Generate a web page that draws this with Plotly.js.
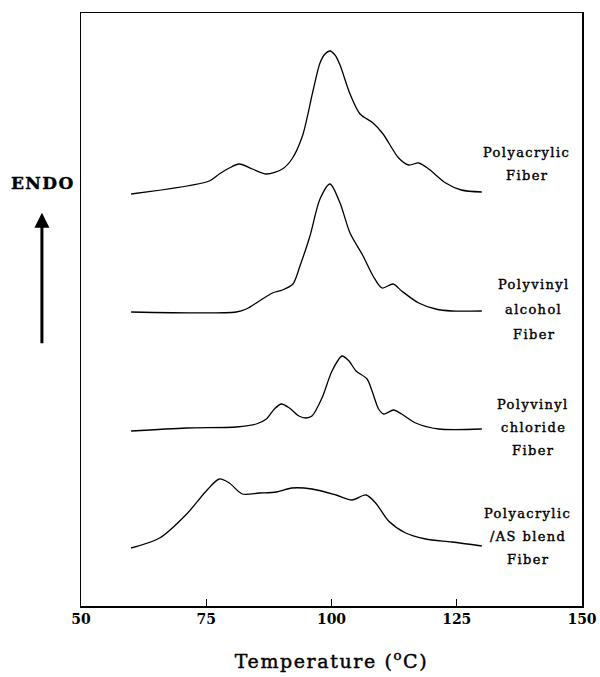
<!DOCTYPE html>
<html>
<head>
<meta charset="utf-8">
<script src="https://cdn.plot.ly/plotly-3.0.1.min.js"></script>
<style>
  html, body { margin: 0; padding: 0; background: #fff; }
  #chart { width: 600px; height: 677px; }
  .annotation-text { letter-spacing: 1.4px; stroke: #000; stroke-width: 0.4px; }
  .xtitle { letter-spacing: 1.6px; stroke: #000; stroke-width: 0.45px; }
</style>
</head>
<body>
<div id="chart"></div>
<script>
// DSC thermograms (endotherm up), each trace offset vertically, arbitrary units
const tempPolyacrylic = [60, 75.6, 77.6, 79.6, 81.6, 84.2, 87.0, 90.2, 92.1, 94.2, 96.3, 97.7, 98.7, 99.7, 100.7, 101.7, 103.7, 105.7, 108.3, 110.3, 113.4, 115.4, 117.4, 119.4, 122.8, 125.9, 130];
const heatPolyacrylic = [41.2, 42.5, 43.2, 43.8, 44.2, 43.7, 43.2, 43.7, 44.7, 47.0, 51.5, 54.3, 55.2, 55.5, 55.1, 54.1, 51.2, 49.2, 48.3, 47.2, 44.8, 44.1, 44.3, 43.7, 42.3, 41.6, 41.4];

const tempPVA = [60, 81.0, 83.0, 85.6, 88.2, 90.2, 92.3, 93.7, 95.7, 97.7, 99.7, 101.7, 103.7, 106.3, 108.3, 110.1, 112.3, 114.0, 117.4, 120.8, 124.0, 130];
const heatPVA = [29.4, 29.4, 29.7, 30.5, 31.3, 31.6, 32.2, 34.0, 37.0, 40.7, 42.2, 40.3, 37.3, 35.0, 33.0, 31.8, 32.2, 31.5, 30.3, 29.7, 29.5, 29.5];

const tempPVC = [60, 71.1, 81.0, 85.0, 87.0, 88.6, 90.0, 91.6, 93.5, 94.9, 96.1, 98.1, 100.1, 102.1, 103.5, 104.9, 107.1, 108.1, 109.4, 110.4, 112.4, 114.0, 116.8, 121.4, 130];
const heatPVC = [17.5, 17.8, 17.9, 18.2, 18.7, 19.7, 20.2, 19.8, 19.0, 18.8, 19.0, 20.8, 23.5, 25.0, 24.5, 23.5, 22.7, 21.5, 19.7, 19.2, 19.6, 19.2, 18.3, 17.7, 17.7];

const tempBlend = [60, 65.7, 71.1, 75.0, 77.6, 79.6, 82.2, 85.6, 89.0, 92.1, 96.1, 100.9, 104.1, 106.9, 108.8, 111.4, 114.8, 118.8, 124.0, 130];
const heatBlend = [5.8, 6.8, 9.2, 11.5, 12.7, 12.3, 11.2, 11.3, 11.4, 11.8, 11.7, 11.1, 10.6, 11.1, 10.3, 8.5, 7.3, 6.7, 6.4, 6.0];

const xTickVals = [50, 75, 100, 125, 150];
const xTickText = ['50', '75', '100', '125', '150'];

// Sample names printed beside each curve, one entry per line
const labelPolyacrylic = ['Polyacrylic', 'Fiber'];
const labelPVA = ['Polyvinyl', 'alcohol', 'Fiber'];
const labelPVC = ['Polyvinyl', 'chloride', 'Fiber'];
const labelBlend = ['Polyacrylic', '/AS blend', 'Fiber'];

const curve = (x, y, name) => ({
  x: x, y: y, name: name, type: 'scatter', mode: 'lines',
  line: { color: '#000', width: 1.3, shape: 'spline', smoothing: 0.8 },
  hoverinfo: 'skip'
});

const traces = [
  curve(tempPolyacrylic, heatPolyacrylic, 'Polyacrylic Fiber'),
  curve(tempPVA, heatPVA, 'Polyvinyl alcohol Fiber'),
  curve(tempPVC, heatPVC, 'Polyvinyl chloride Fiber'),
  curve(tempBlend, heatBlend, 'Polyacrylic/AS blend Fiber')
];

const textFont = { family: 'DejaVu Serif, serif', size: 13, color: '#000' };

// stack of centred text lines, top line at yTop, fixed line pitch
function labelBlock(lines, xc, yTop, pitch) {
  return lines.map((t, i) => ({
    xref: 'x', yref: 'y', x: xc, y: yTop - i * pitch,
    text: t, showarrow: false, font: textFont,
    xanchor: 'center', yanchor: 'middle'
  }));
}

const annotations = [].concat(
  labelBlock(labelPolyacrylic, 139.0, 45.4, 2.35),
  labelBlock(labelPVA, 140.4, 32.2, 2.5),
  labelBlock(labelPVC, 140.3, 20.2, 2.3),
  labelBlock(labelBlend, 139.2, 9.3, 2.3),
  [
    {
      xref: 'paper', yref: 'paper', x: -0.0756, y: 0.713,
      text: 'ENDO', showarrow: false,
      font: { family: 'DejaVu Serif, serif', size: 17, color: '#000', weight: 'bold' },
      xanchor: 'center', yanchor: 'middle'
    },
    {
      xref: 'paper', yref: 'paper', x: -0.078, y: 0.663,
      text: '', showarrow: true, arrowhead: 2, arrowsize: 1, arrowwidth: 3,
      arrowcolor: '#000', ax: 0, ay: 132, standoff: 0
    }
  ]
);

const layout = {
  width: 600, height: 677,
  margin: { l: 81, r: 18, t: 13, b: 71 },
  paper_bgcolor: '#fff', plot_bgcolor: '#fff',
  showlegend: false,
  xaxis: {
    range: [50, 150], tickvals: xTickVals, ticktext: xTickText,
    ticks: 'inside', ticklen: 7, tickwidth: 1.2, tickcolor: '#000',
    showline: true, mirror: true, linecolor: '#000', linewidth: 1.5,
    showgrid: false, zeroline: false,
    tickfont: { family: 'DejaVu Serif, serif', size: 14, color: '#000', weight: 'bold' },
    title: {
      text: 'Temperature (<sup>o</sup>C)',
      font: { family: 'DejaVu Serif, serif', size: 19, color: '#000' },
      standoff: 28
    }
  },
  yaxis: {
    range: [0, 59.3], showticklabels: false, ticks: '',
    showline: true, mirror: true, linecolor: '#000', linewidth: 1.5,
    showgrid: false, zeroline: false
  },
  annotations: annotations
};

Plotly.newPlot('chart', traces, layout, { staticPlot: true, displayModeBar: false });
</script>
</body>
</html>
